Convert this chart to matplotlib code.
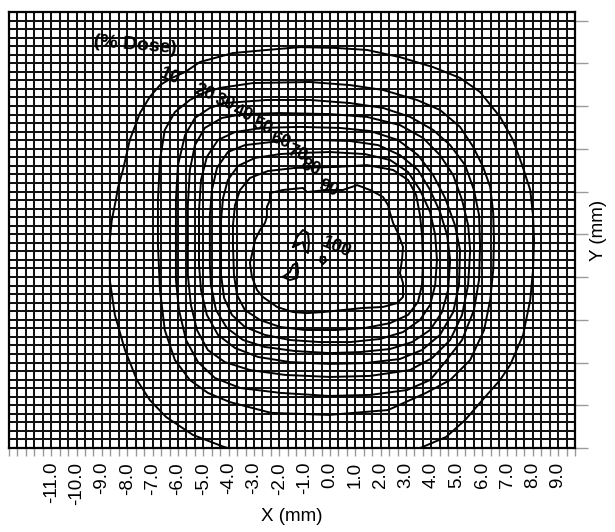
import matplotlib
matplotlib.use("Agg")
import matplotlib.pyplot as plt
import numpy as np

plt.rcParams['font.family'] = ['Liberation Sans', 'DejaVu Sans']

# ---------------- data ----------------
x_tick_values = [-11.0, -10.0, -9.0, -8.0, -7.0, -6.0, -5.0, -4.0, -3.0, -2.0, -1.0,
                 0.0, 1.0, 2.0, 3.0, 4.0, 5.0, 6.0, 7.0, 8.0, 9.0]
x_tick_labels = [f"{v:.1f}" for v in x_tick_values]
x_limits = (-38 / 3, 29 / 3)
y_limits = (-8.5, 8.5)
grid_step = 1 / 3
x_label = "X (mm)"
y_label = "Y (mm)"
legend_title = "(% Dose)"
legend_title_xy = (-7.70, 7.21)

contour_levels = [10, 20, 30, 40, 50, 60, 70, 80, 90]

c10_x = [-3.43, -4.18, -5.41, -6.47, -7.11, -7.62, -8.09, -8.49, -8.69, -8.69, -8.61, -8.45,
         -8.37, -8.17, -7.90, -7.50, -7.11, -6.71, -6.24, -5.72, -5.13, -3.83, -2.49, -1.18,
         0.20, 1.46, 2.76, 4.07, 5.13, 5.92, 6.71, 7.22, 7.58, 7.90, 8.01, 8.05, 8.01, 7.90,
         7.62, 7.11, 6.71, 6.12, 5.33, 4.58, 3.75, 3.20]
c10_y = [-8.66, -8.46, -7.99, -7.29, -6.63, -5.85, -4.68, -3.31, -1.95, -0.39, 0.39, 1.17,
         1.64, 2.34, 3.51, 4.56, 5.19, 5.65, 5.93, 6.16, 6.55, 6.90, 7.02, 7.13,
         7.10, 7.02, 6.74, 6.35, 5.93, 5.38, 4.41, 3.51, 2.53, 1.56, 0.58, -0.39, -1.56, -2.73,
         -4.09, -5.26, -5.85, -6.51, -7.41, -8.07, -8.42, -8.66]

c20_x = [-6.79, -6.79, -6.71, -6.52, -6.12, -5.53, -5.01, -4.34, -3.04, -0.79, 0.79, 2.09,
         3.43, 4.34, 5.13, 5.65, 6.04, 6.32, 6.44, 6.47, 6.44, 6.32, 6.08, 5.53, 4.74, 3.79,
         2.29, -0.04, -2.33, -3.95, -4.82, -5.53, -6.12, -6.52, -6.71]
c20_y = [-0.58, 1.17, 2.73, 3.90, 4.60, 5.07, 5.34, 5.54, 5.73, 5.77, 5.65, 5.46,
         5.07, 4.68, 4.02, 3.24, 2.46, 1.68, 0.66, -0.39, -1.56, -2.73, -3.90, -5.07, -5.85, -6.35,
         -7.02, -7.21, -7.13, -6.71, -6.35, -5.85, -5.07, -3.90, -2.34]

c30_x = [-6.08, -6.08, -6.00, -5.72, -5.33, -4.74, -4.15, -2.49, -0.79, 0.79, 2.09, 3.16,
         4.07, 4.74, 5.33, 5.68, 5.88, 5.92, 5.88, 5.68, 5.21, 4.54, 3.95, 3.04, 1.58, -0.04,
         -1.97, -3.55, -4.54, -5.21, -5.68, -5.96, -6.08]
c30_y = [-0.58, 1.17, 2.53, 3.70, 4.37, 4.76, 4.95, 5.07, 5.07, 4.95, 4.76, 4.41,
         3.90, 3.31, 2.53, 1.56, 0.58, -0.58, -1.95, -3.12, -4.29, -5.15, -5.85, -6.24, -6.43, -6.47,
         -6.35, -6.16, -5.77, -5.15, -4.29, -3.12, -1.95]

c40_x = [-5.61, -5.61, -5.53, -5.33, -4.94, -4.26, -3.43, -1.97, 0.00, 1.46, 2.76, 3.67,
         4.34, 4.86, 5.21, 5.45, 5.53, 5.45, 5.21, 4.74, 4.03, 3.16, 1.58, 0.00, -1.78, -3.16,
         -4.15, -4.82, -5.25, -5.49, -5.61]
c40_y = [-0.58, 0.97, 2.34, 3.31, 3.98, 4.37, 4.52, 4.56, 4.52, 4.41, 4.09, 3.59,
         2.92, 2.14, 1.17, 0.19, -0.78, -2.14, -3.31, -4.29, -4.99, -5.46, -5.69, -5.73, -5.65, -5.46,
         -5.15, -4.68, -3.90, -2.92, -1.75]

c50_x = [-5.17, -5.17, -5.09, -4.86, -4.42, -3.75, -2.68, -1.18, 0.39, 1.58, 2.68, 3.47,
         4.07, 4.54, 4.93, 5.13, 5.09, 4.86, 4.34, 3.63, 2.76, 1.38, 0.00, -1.58, -2.84, -3.75,
         -4.42, -4.86, -5.09, -5.17]
c50_y = [-0.58, 0.78, 1.95, 2.85, 3.51, 3.82, 3.98, 4.02, 3.98, 3.86, 3.51, 2.92,
         2.14, 1.25, 0.19, -0.78, -2.14, -3.20, -4.09, -4.68, -5.03, -5.19, -5.22, -5.15, -4.95, -4.60,
         -4.09, -3.31, -2.34, -1.36]

c60_x = [-4.74, -4.74, -4.66, -4.46, -4.03, -3.36, -1.97, -0.59, 0.79, 1.90, 2.76, 3.47,
         3.95, 4.34, 4.62, 4.74, 4.66, 4.42, 3.95, 3.24, 2.37, 1.18, 0.00, -1.38, -2.57, -3.43,
         -4.07, -4.50, -4.70, -4.74]
c60_y = [-0.58, 0.58, 1.56, 2.42, 3.04, 3.31, 3.47, 3.51, 3.47, 3.31, 2.92, 2.34,
         1.56, 0.70, -0.19, -1.17, -2.34, -3.20, -3.90, -4.37, -4.64, -4.76, -4.80, -4.72, -4.56, -4.29,
         -3.82, -3.12, -2.14, -1.36]

c70_x = [-4.30, -4.30, -4.22, -4.03, -3.63, -2.96, -1.97, -1.30, 0.00, 1.38, 2.37, 3.08,
         3.55, 3.95, 4.15, 4.22, 4.15, 3.95, 3.55, 2.88, 1.97, 0.79, -0.39, -1.58, -2.57, -3.36,
         -3.87, -4.18, -4.30]
c70_y = [-0.58, 0.39, 1.25, 1.95, 2.50, 2.81, 2.96, 3.00, 3.04, 2.96, 2.73, 2.26,
         1.56, 0.70, -0.19, -1.17, -2.14, -2.92, -3.51, -3.98, -4.25, -4.37, -4.37, -4.29, -4.09, -3.78,
         -3.31, -2.65, -1.75]

c80_x = [-3.83, -3.83, -3.75, -3.55, -3.16, -2.45, -1.38, 0.28, 1.46, 2.49, 3.08, 3.40,
         3.55, 3.63, 3.67, 3.63, 3.47, 3.08, 2.37, 1.38, 0.20, -0.99, -1.97, -2.76, -3.36, -3.67,
         -3.79]
c80_y = [-0.58, 0.19, 0.97, 1.56, 2.03, 2.30, 2.42, 2.46, 2.53, 2.34, 1.95, 1.36,
         0.58, -0.19, -1.17, -2.14, -2.81, -3.31, -3.63, -3.82, -3.90, -3.90, -3.78, -3.51, -3.12, -2.53,
         -1.75]

c90_x = [-2.37, -1.86, -1.07, -0.91, -0.12, 0.51, 1.07, 1.26, 1.58, 2.09, 2.29, 2.37,
         2.49, 2.68, 2.88, 2.84, 2.76, 2.88, 2.88, 2.65, 2.09, 1.30, 0.51, -0.28, -0.91, -1.46,
         -2.09, -2.65, -2.88, -3.08, -3.16, -3.04, -2.96, -2.76, -2.57, -2.49, -2.49, -2.37]
c90_y = [1.44, 1.56, 1.64, 1.48, 1.56, 1.56, 1.75, 1.68, 1.56, 1.29, 0.97, 0.66,
         0.27, -0.12, -0.66, -1.17, -1.68, -2.07, -2.61, -2.85, -3.00, -3.04, -3.12, -3.20, -3.24, -3.20,
         -3.00, -2.61, -2.34, -1.83, -1.29, -0.78, -0.39, 0.00, 0.27, 0.51, 0.90, 1.17]

c100a_x = [-1.46, -1.30, -1.07, -0.87, -0.83, -0.87, -0.99, -1.07, -1.26]
c100a_y = [-0.66, -0.27, 0.00, -0.12, -0.51, -0.90, -0.78, -0.47, -0.58]
c100b_x = [-1.86, -1.58, -1.46, -1.30, -1.26, -1.30, -1.58]
c100b_y = [-1.83, -1.64, -1.36, -1.29, -1.64, -1.87, -1.95]
c100c_x = [-0.36, -0.20, -0.16, -0.28, -0.39]
c100c_y = [-1.05, -1.05, -1.21, -1.33, -1.21]

label_text = ["10", "20", "30", "40", "50", "60", "70", "80", "90", "100"]
label_x = [-6.32, -4.94, -4.15, -3.43, -2.68, -1.97, -1.30, -0.79, -0.08, 0.24]
label_y = [6.00, 5.34, 4.95, 4.52, 4.02, 3.47, 2.96, 2.42, 1.60, -0.70]

# ---------------- figure ----------------
fig = plt.figure(figsize=(6.15, 5.32), dpi=100)
ax = fig.add_axes([9 / 615, 1 - 448 / 532, 566 / 615, 436 / 532])
ax.set_xlim(*x_limits)
ax.set_ylim(*y_limits)

# dense background grid
gx = np.arange(x_limits[0], x_limits[1] + 1e-6, grid_step)
gy = np.arange(y_limits[0], y_limits[1] + 1e-6, grid_step)
ax.vlines(gx, y_limits[0], y_limits[1], colors="#111111", linewidth=1.45, zorder=1)
ax.hlines(gy, x_limits[0], x_limits[1], colors="#111111", linewidth=1.45, zorder=1)

open_lines = [(c10_x, c10_y)]
closed_lines = [(c20_x, c20_y), (c30_x, c30_y), (c40_x, c40_y), (c50_x, c50_y),
                (c60_x, c60_y), (c70_x, c70_y), (c80_x, c80_y), (c90_x, c90_y),
                (c100a_x, c100a_y), (c100b_x, c100b_y), (c100c_x, c100c_y)]
for xs, ys in open_lines:
    ax.plot(xs, ys, color="black", linewidth=1.4, zorder=3)
for xs, ys in closed_lines:
    ax.plot(list(xs) + [xs[0]], list(ys) + [ys[0]], color="black", linewidth=1.4, zorder=3)

for t, lx, ly in zip(label_text, label_x, label_y):
    ax.text(lx, ly, t, ha="center", va="center", rotation=-22, fontsize=13,
            fontweight="bold", color="black", zorder=4)
ax.text(legend_title_xy[0], legend_title_xy[1], legend_title, ha="center", va="center",
        rotation=-5, fontsize=14, fontweight="bold", color="black", zorder=4)

# axes styling
for s in ax.spines.values():
    s.set_linewidth(1.6)
    s.set_color("black")
    s.set_zorder(5)

ax.set_xticks(x_tick_values)
ax.set_xticklabels(x_tick_labels, rotation=90, fontsize=13.5)
ax.set_xticks(gx, minor=True)
ax.tick_params(axis="x", which="both", direction="out", length=6, width=1,
               color="#9a9a9a", pad=4, top=False, bottom=True)

ax.yaxis.tick_right()
ax.set_yticks(y_limits[0] + np.arange(11) * 5 * grid_step)
ax.set_yticklabels([])
ax.tick_params(axis="y", which="major", direction="out", length=9, width=1,
               color="#9a9a9a", left=False, right=True)
ax.yaxis.set_label_position("right")
ax.set_ylabel(y_label, fontsize=13.5, rotation=90, labelpad=-2)
ax.set_xlabel(x_label, fontsize=13.5, labelpad=2)

fig.savefig("out.png", dpi=100)
